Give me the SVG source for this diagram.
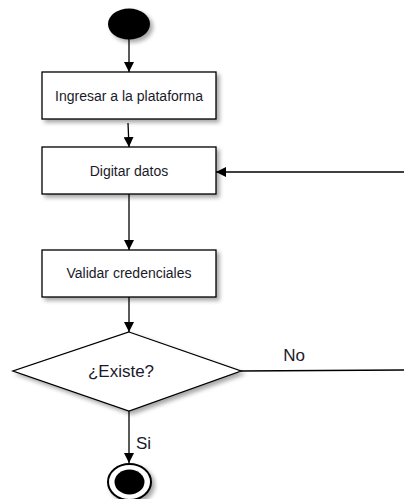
<svg xmlns="http://www.w3.org/2000/svg" width="404" height="499" viewBox="0 0 404 499">
<style>
.box{fill:#fff;stroke:#000;stroke-width:1.3}
.lbl{font-family:"Liberation Sans",Arial,sans-serif;font-size:14px;fill:#1a1a2a;text-anchor:middle;dominant-baseline:central}
.big{font-size:17px}
.edge{stroke:#000;stroke-width:1.3;fill:none;marker-end:url(#arr)}
.line{stroke:#000;stroke-width:1.3;fill:none}
</style>
<defs>
<marker id="arr" viewBox="0 0 10 10" refX="10" refY="5" markerWidth="10" markerHeight="10" markerUnits="userSpaceOnUse" orient="auto">
<path d="M0,0 L10,5 L0,10 z" fill="#000"/>
</marker>
<filter id="sh" x="-10%" y="-20%" width="130%" height="150%">
<feGaussianBlur in="SourceAlpha" stdDeviation="2"/>
<feOffset dx="3" dy="3"/>
<feComponentTransfer><feFuncA type="linear" slope="0.35"/></feComponentTransfer>
<feMerge><feMergeNode/><feMergeNode in="SourceGraphic"/></feMerge>
</filter>
</defs>
<rect width="404" height="499" fill="#fff"/>
<g id="connectors">
<line class="edge" x1="129" y1="39" x2="129" y2="72"/>
<line class="edge" x1="128" y1="123" x2="129" y2="147"/>
<line class="edge" x1="404" y1="172" x2="216" y2="172"/>
<line class="edge" x1="129" y1="194" x2="129" y2="250"/>
<line class="edge" x1="129" y1="297" x2="129" y2="332"/>
<line class="line" x1="241" y1="371" x2="404" y2="370"/>
<line class="edge" x1="129" y1="411" x2="129" y2="463"/>
<text class="lbl big" x="294" y="355">No</text>
<text class="lbl big" x="143.5" y="443">Si</text>
</g>
<g id="start">
<ellipse cx="129" cy="24" rx="21" ry="15.5" fill="#000" filter="url(#sh)"/>
</g>
<g id="ingresar">
<rect class="box" x="42" y="72" width="174" height="47" filter="url(#sh)"/>
<text class="lbl" x="129" y="96">Ingresar a la plataforma</text>
</g>
<g id="digitar">
<rect class="box" x="42" y="147" width="174" height="47" filter="url(#sh)"/>
<text class="lbl" x="129" y="171">Digitar datos</text>
</g>
<g id="validar">
<rect class="box" x="42" y="250" width="174" height="47" filter="url(#sh)"/>
<text class="lbl" x="129" y="273">Validar credenciales</text>
</g>
<g id="existe">
<polygon class="box" points="129,332 241,371 129,411 13,371" filter="url(#sh)"/>
<text class="lbl big" x="121" y="371">¿Existe?</text>
</g>
<g id="end">
<ellipse cx="129.5" cy="482" rx="21.5" ry="18" fill="#fff" stroke="#000" stroke-width="2" filter="url(#sh)"/>
<ellipse cx="129.5" cy="482" rx="15" ry="12.5" fill="#000"/>
</g>
</svg>
